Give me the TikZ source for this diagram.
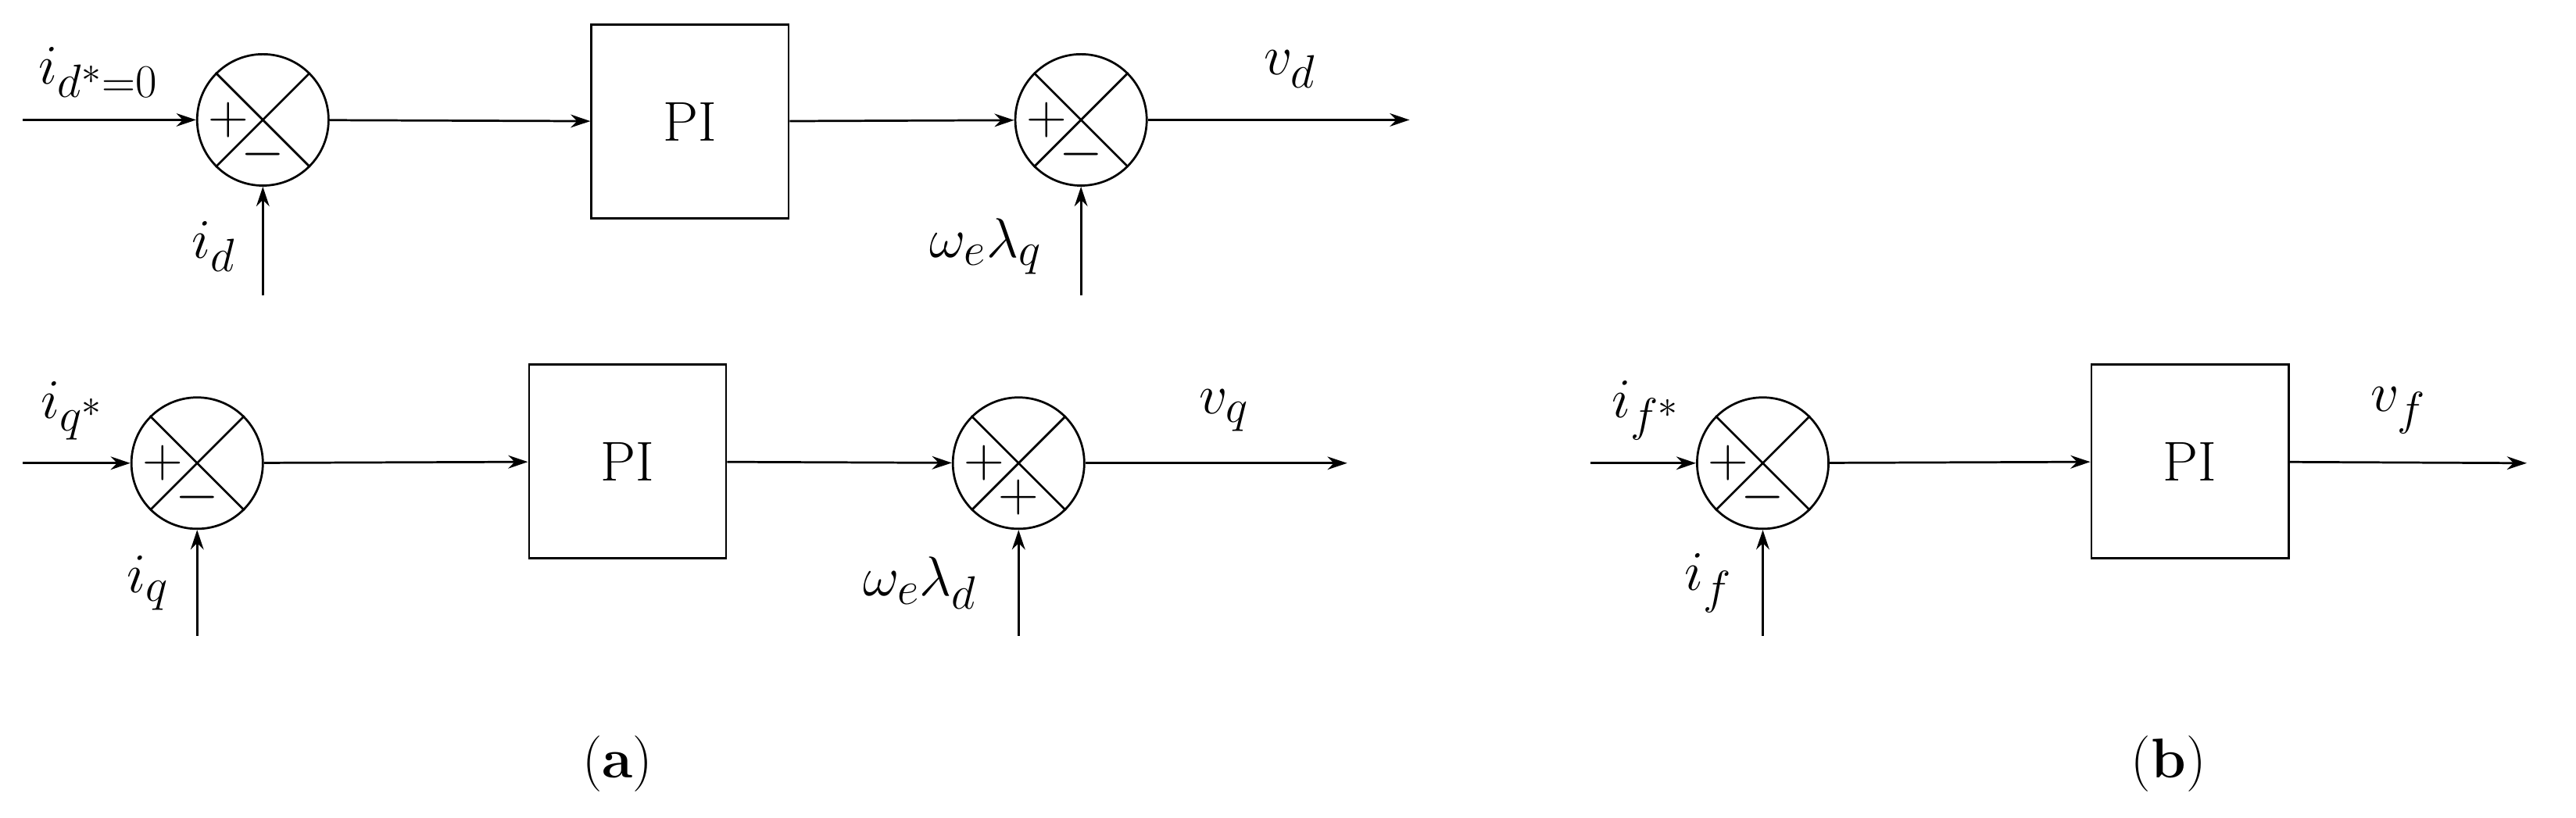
\documentclass[tikz,border=0pt]{standalone}
\usepackage{graphicx}
\usetikzlibrary{arrows.meta}
\newcommand{\lbl}[1]{\scalebox{1.37}{\fontsize{24.88}{30}\selectfont #1}}
\begin{document}
\begin{tikzpicture}[x=1pt,y=-1pt,
  ln/.style={line width=1.3pt},
  ar/.style={ln,-{Stealth[length=12pt,width=8pt]}},
  sumc/.style={circle,draw,line width=1.3pt,minimum size=80pt,inner sep=0pt},
  pib/.style={draw,line width=1.3pt,minimum width=120pt,minimum height=118pt},
  lab/.style={inner sep=1pt},
  sg/.style={inner sep=0pt}]
\useasboundingbox (0,0) rectangle (1568,498);
\newcommand{\sumx}[4]{%
  \node[sumc] (#1) at (#2) {};
  \draw[ln] (#1.north west) -- (#1.south east) (#1.north east) -- (#1.south west);
  \node[sg] at ([xshift=-21pt]#1.center) {\lbl{$#3$}};
  \node[sg] at ([yshift=-21pt]#1.center) {\lbl{$#4$}};}
% row 1
\coordinate (in1) at (14,73);
\sumx{s1}{160,73}{+}{-}
\node[pib] (p1) at (420,74) {\lbl{PI}};
\sumx{s2}{658,73}{+}{-}
\coordinate (o1) at (858,73);
\coordinate (b1) at (160,180); \coordinate (b2) at (658,180);
\draw[ar] (in1) -- (s1); \draw[ar] (s1) -- (p1); \draw[ar] (p1) -- (s2); \draw[ar] (s2) -- (o1);
\draw[ar] (b1) -- (s1); \draw[ar] (b2) -- (s2);
\node[lab] at (60,44) {\lbl{$i_{d^*=0}$}};
\node[lab] at (130,150) {\lbl{$i_d$}};
\node[lab] at (600,150) {\lbl{$\omega_e\lambda_q$}};
\node[lab] at (785,42) {\lbl{$v_d$}};
% row 2
\coordinate (in2) at (14,282);
\sumx{s3}{120,282}{+}{-}
\node[pib] (p2) at (382,281) {\lbl{PI}};
\sumx{s4}{620,282}{+}{+}
\coordinate (o2) at (820,282);
\coordinate (b3) at (120,387); \coordinate (b4) at (620,387);
\draw[ar] (in2) -- (s3); \draw[ar] (s3) -- (p2); \draw[ar] (p2) -- (s4); \draw[ar] (s4) -- (o2);
\draw[ar] (b3) -- (s3); \draw[ar] (b4) -- (s4);
\node[lab] at (44,250) {\lbl{$i_{q^*}$}};
\node[lab] at (90,355) {\lbl{$i_q$}};
\node[lab] at (560,355) {\lbl{$\omega_e\lambda_d$}};
\node[lab] at (745,250) {\lbl{$v_q$}};
% (b)
\coordinate (in3) at (968,282);
\sumx{s5}{1073,282}{+}{-}
\node[pib] (p3) at (1333,281) {\lbl{PI}};
\coordinate (o3) at (1538,282);
\coordinate (b5) at (1073,387);
\draw[ar] (in3) -- (s5); \draw[ar] (s5) -- (p3); \draw[ar] (p3) -- (o3); \draw[ar] (b5) -- (s5);
\node[lab] at (1002,250) {\lbl{$i_{f^*}$}};
\node[lab] at (1040,355) {\lbl{$i_f$}};
\node[lab] at (1460,250) {\lbl{$v_f$}};
\node[lab] (ca) at (376,465) {\lbl{(\textbf{a})}};
\node[lab] (cb) at (1320,465) {\lbl{(\textbf{b})}};
\end{tikzpicture}
\end{document}
